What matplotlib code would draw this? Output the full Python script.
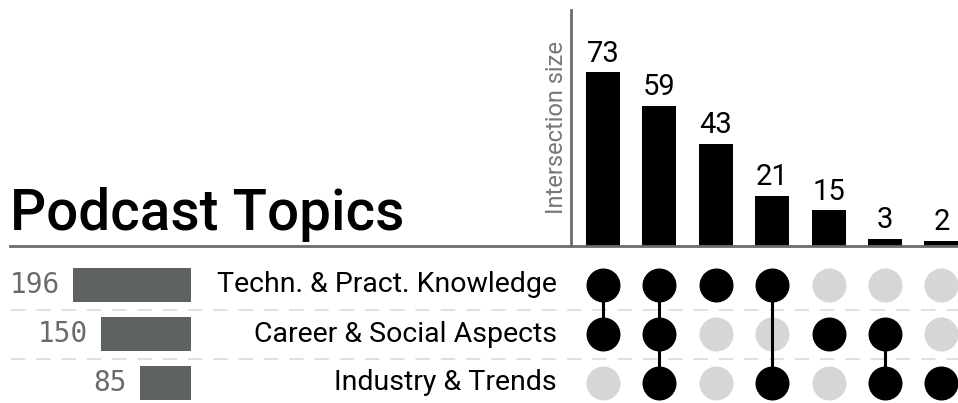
import numpy as np
import matplotlib.pyplot as plt

plt.rcParams['font.family'] = ['Roboto', 'DejaVu Sans']

# data
sets = ["Techn. & Pract. Knowledge", "Career & Social Aspects", "Industry & Trends"]
set_sizes = [196, 150, 85]
inter_sizes = [73, 59, 43, 21, 15, 3, 2]
# membership per intersection column (rows follow `sets`)
membership = [
    [1, 1, 0],
    [1, 1, 1],
    [1, 0, 0],
    [1, 0, 1],
    [0, 1, 0],
    [0, 1, 1],
    [0, 0, 1],
]

W, H = 958, 403
fig = plt.figure(figsize=(W / 100, H / 100), dpi=100)

def px_axes(x0, y0, x1, y1):
    # pixel box (top-left origin) -> figure axes
    return fig.add_axes([x0 / W, 1 - y1 / H, (x1 - x0) / W, (y1 - y0) / H])

col0, step = 603, 56.4
row0, rstep = 285, 49.0
grey_axis = "#6b6b6b"
dot_off = "#d5d7d5"
dot_s = (34 * 0.72) ** 2

# --- intersection bars ---
axb = px_axes(571, 10, 958, 246)
xs = np.arange(len(inter_sizes))
axb.bar(xs, inter_sizes, width=0.6, color="black")
for x, v in zip(xs, inter_sizes):
    axb.text(x, v + 2, str(v), ha="center", va="bottom", fontsize=21)
axb.set_xlim(-(col0 - 571) / step, (958 - col0) / step)
axb.set_ylim(0, 236 / 2.38)
for s in ["top", "right", "bottom"]:
    axb.spines[s].set_visible(False)
axb.spines["left"].set_color(grey_axis)
axb.spines["left"].set_linewidth(2)
axb.set_xticks([])
axb.set_yticks([])
axb.set_ylabel("Intersection size", fontsize=17, color="#777777", labelpad=2)

# --- matrix ---
axm = px_axes(10, 246, 958, 403)
axm.set_xlim(-(col0 - 10) / step, (958 - col0) / step)
axm.set_ylim((403 - row0) / rstep, -(row0 - 246) / rstep)
for y in [0.5, 1.5]:
    axm.plot([-10.5, 6.3], [y, y], color="#dddddd", lw=1.3,
             dashes=(8, 6), zorder=0)
for c, mem in enumerate(membership):
    on = [r for r, m in enumerate(mem) if m]
    off = [r for r, m in enumerate(mem) if not m]
    axm.scatter([c] * len(off), off, s=dot_s, color=dot_off, zorder=1,
                linewidths=0)
    if len(on) > 1:
        axm.plot([c, c], [min(on), max(on)], color="black", lw=2.2, zorder=2)
    axm.scatter([c] * len(on), on, s=dot_s, color="black", zorder=3,
                linewidths=0)
for r, name in enumerate(sets):
    axm.text((557 - col0) / step, r, name, ha="right", va="center",
             fontsize=20.5)
for s in ["left", "right", "bottom"]:
    axm.spines[s].set_visible(False)
axm.spines["top"].set_color(grey_axis)
axm.spines["top"].set_linewidth(2)
axm.set_xticks([])
axm.set_yticks([])
axm.patch.set_alpha(0)

# --- set sizes ---
axs = px_axes(10, 246, 191, 403)
axs.barh(range(len(sets)), set_sizes, height=34 / rstep, color="#5f6263")
for r, v in enumerate(set_sizes):
    axs.text(v + 22, r, str(v), ha="right", va="center", fontsize=20,
             family="DejaVu Sans Mono", color="#6a6a6a")
axs.set_xlim(181 / 0.6, 0)
axs.set_ylim((403 - row0) / rstep, -(row0 - 246) / rstep)
axs.axis("off")

fig.text(10 / W, 1 - 230 / H, "Podcast Topics", fontsize=40.7, ha="left",
         va="baseline", fontweight="medium")

fig.savefig("out.png", dpi=100)
